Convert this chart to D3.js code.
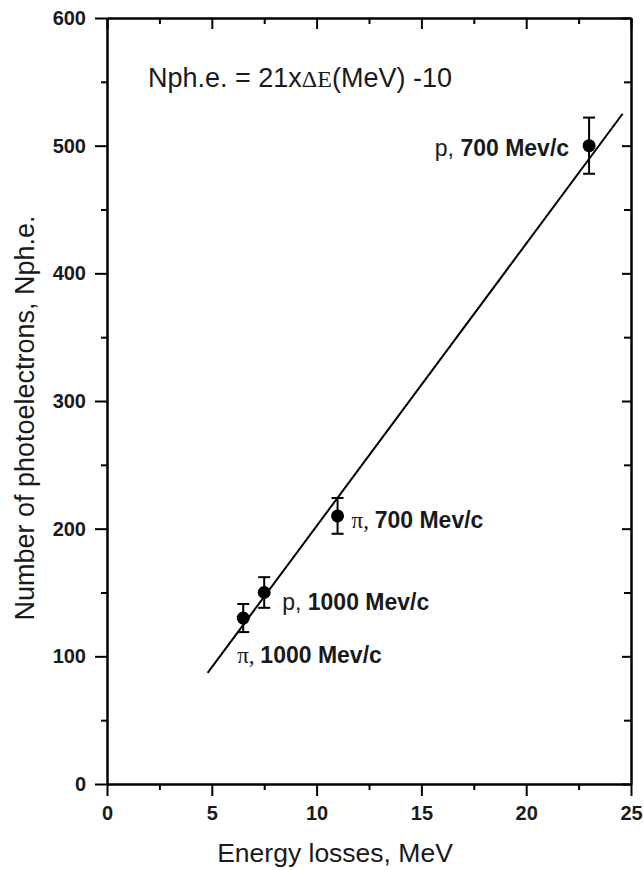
<!DOCTYPE html>
<html>
<head>
<meta charset="utf-8">
<script src="https://cdn.jsdelivr.net/npm/d3@7"></script>
<style>
    body { margin: 0; background: #fff; }
    .axis path, .axis line { stroke: #000; stroke-width: 2px; }
</style>
</head>
<body>
<div id="chart"></div>
<script>
/*
    Nph.e. versus energy losses
 */

// data
var energy = [6.5, 7.5, 11, 23];
var photoelectrons = [130, 150, 210, 500];
var errors = [11, 12, 14, 22];
var particles = ['π', 'p', 'π', 'p'];
var momenta = ['1000 Mev/c', '1000 Mev/c', '700 Mev/c', '700 Mev/c'];

var fit_energy = [4.8, 24.6];
var fit_photoelectrons = [87, 525];

var x_ticks = [0, 5, 10, 15, 20, 25];
var y_ticks = [0, 100, 200, 300, 400, 500, 600];

var svg_size = {
    'width': 644,
    'height': 870
};

var chart_option = {
    'left': 107,
    'top': 18,
    'right': 631,
    'bottom': 784,
    'major_tick': 12,
    'minor_tick': 6
};

var sans = '"Liberation Sans", Arial, sans-serif';
var serif = '"Liberation Serif", "Times New Roman", serif';

// label offsets from the point, pixels
var label_option = [
    {'dx': -6, 'dy': 45, 'anchor': 'start'},
    {'dx': 18, 'dy': 17, 'anchor': 'start'},
    {'dx': 14, 'dy': 12, 'anchor': 'start'},
    {'dx': -20, 'dy': 10, 'anchor': 'end'}
];

var svg = d3.select("#chart")
    .append("svg")
    .attr('width', svg_size.width)
    .attr('height', svg_size.height);

var x_scale = d3.scaleLinear()
    .domain([0, 25])
    .range([chart_option.left, chart_option.right]);

var y_scale = d3.scaleLinear()
    .domain([0, 600])
    .range([chart_option.bottom, chart_option.top]);

var x_minor = d3.range(2.5, 25, 5);
var y_minor = d3.range(50, 600, 100);

function add_axis(axis, transform){
    var g = svg.append('g')
        .classed('axis', true)
        .attr('transform', transform)
        .call(axis);
    g.selectAll('text')
        .attr('font-family', sans)
        .attr('font-weight', 'bold')
        .attr('font-size', 20)
        .attr('fill', '#1a1a1a');
    return g;
}

// bottom axis
add_axis(d3.axisBottom(x_scale).tickValues(x_minor).tickFormat('')
    .tickSizeInner(chart_option.minor_tick).tickSizeOuter(0),
    'translate(0,' + chart_option.bottom + ')');
add_axis(d3.axisBottom(x_scale).tickValues(x_ticks).tickFormat(d3.format('d'))
    .tickSizeInner(chart_option.major_tick).tickSizeOuter(0).tickPadding(10),
    'translate(0,' + chart_option.bottom + ')');

// top axis, ticks inside
add_axis(d3.axisBottom(x_scale).tickValues(x_minor).tickFormat('')
    .tickSizeInner(chart_option.minor_tick).tickSizeOuter(0),
    'translate(0,' + chart_option.top + ')');
add_axis(d3.axisBottom(x_scale).tickValues(x_ticks).tickFormat('')
    .tickSizeInner(chart_option.major_tick - 1).tickSizeOuter(0),
    'translate(0,' + chart_option.top + ')');

// left axis
add_axis(d3.axisLeft(y_scale).tickValues(y_minor).tickFormat('')
    .tickSizeInner(chart_option.minor_tick).tickSizeOuter(0),
    'translate(' + chart_option.left + ',0)');
add_axis(d3.axisLeft(y_scale).tickValues(y_ticks).tickFormat(d3.format('d'))
    .tickSizeInner(chart_option.major_tick).tickSizeOuter(0).tickPadding(9),
    'translate(' + chart_option.left + ',0)');

// right axis, ticks inside
add_axis(d3.axisLeft(y_scale).tickValues(y_minor).tickFormat('')
    .tickSizeInner(chart_option.minor_tick + 1).tickSizeOuter(0),
    'translate(' + chart_option.right + ',0)');
add_axis(d3.axisLeft(y_scale).tickValues(y_ticks).tickFormat('')
    .tickSizeInner(9).tickSizeOuter(0),
    'translate(' + chart_option.right + ',0)');

// axis titles
svg.append('text')
    .attr('x', 335)
    .attr('y', 862)
    .attr('text-anchor', 'middle')
    .style('font-family', sans)
    .style('font-size', '26.5px')
    .style('fill', '#1a1a1a')
    .text('Energy losses, MeV');

svg.append('text')
    .attr('transform', 'translate(34,418) rotate(-90)')
    .attr('text-anchor', 'middle')
    .style('font-family', sans)
    .style('font-size', '27px')
    .style('fill', '#1a1a1a')
    .text('Number of photoelectrons, Nph.e.');

// equation
var equation = svg.append('text')
    .attr('x', 148)
    .attr('y', 87)
    .style('font-family', sans)
    .style('font-size', '27px')
    .style('fill', '#1a1a1a');
equation.append('tspan').text('Nph.e. = 21x');
equation.append('tspan')
    .style('font-family', serif)
    .style('font-size', '24px')
    .text('ΔE');
equation.append('tspan').text('(MeV) -10');

// fit line
var fit_data = d3.zip(fit_energy, fit_photoelectrons);
svg.append('path')
    .datum(fit_data)
    .attr('d', d3.line()
        .x(function(d){ return x_scale(d[0]); })
        .y(function(d){ return y_scale(d[1]); }))
    .style('fill', 'none')
    .style('stroke', '#000')
    .style('stroke-width', '2px');

// points with error bars
var point_data = energy.map(function(d, i){
    return {
        'x': d,
        'y': photoelectrons[i],
        'err': errors[i],
        'particle': particles[i],
        'momentum': momenta[i],
        'label': label_option[i]
    };
});

var point_enter = svg.selectAll('.point')
    .data(point_data)
    .enter()
    .append('g')
    .classed('point', true);

point_enter.append('line')
    .attr('x1', function(d){ return x_scale(d.x); })
    .attr('x2', function(d){ return x_scale(d.x); })
    .attr('y1', function(d){ return y_scale(d.y - d.err); })
    .attr('y2', function(d){ return y_scale(d.y + d.err); })
    .style('stroke', '#000')
    .style('stroke-width', '2px');

[-1, 1].forEach(function(sign){
    point_enter.append('line')
        .attr('x1', function(d){ return x_scale(d.x) - 6; })
        .attr('x2', function(d){ return x_scale(d.x) + 6; })
        .attr('y1', function(d){ return y_scale(d.y + sign*d.err); })
        .attr('y2', function(d){ return y_scale(d.y + sign*d.err); })
        .style('stroke', '#000')
        .style('stroke-width', '2px');
});

point_enter.append('circle')
    .attr('cx', function(d){ return x_scale(d.x); })
    .attr('cy', function(d){ return y_scale(d.y); })
    .attr('r', 6.5)
    .style('fill', '#000');

var label = point_enter.append('text')
    .attr('x', function(d){ return x_scale(d.x) + d.label.dx; })
    .attr('y', function(d){ return y_scale(d.y) + d.label.dy; })
    .attr('text-anchor', function(d){ return d.label.anchor; })
    .style('font-family', sans)
    .style('font-size', '23px')
    .style('fill', '#1a1a1a');

label.append('tspan')
    .style('font-family', function(d){
        return d.particle == 'π' ? serif : null;
    })
    .text(function(d){ return d.particle + ', '; });

label.append('tspan')
    .style('font-weight', 'bold')
    .text(function(d){ return d.momentum; });
</script>
</body>
</html>
